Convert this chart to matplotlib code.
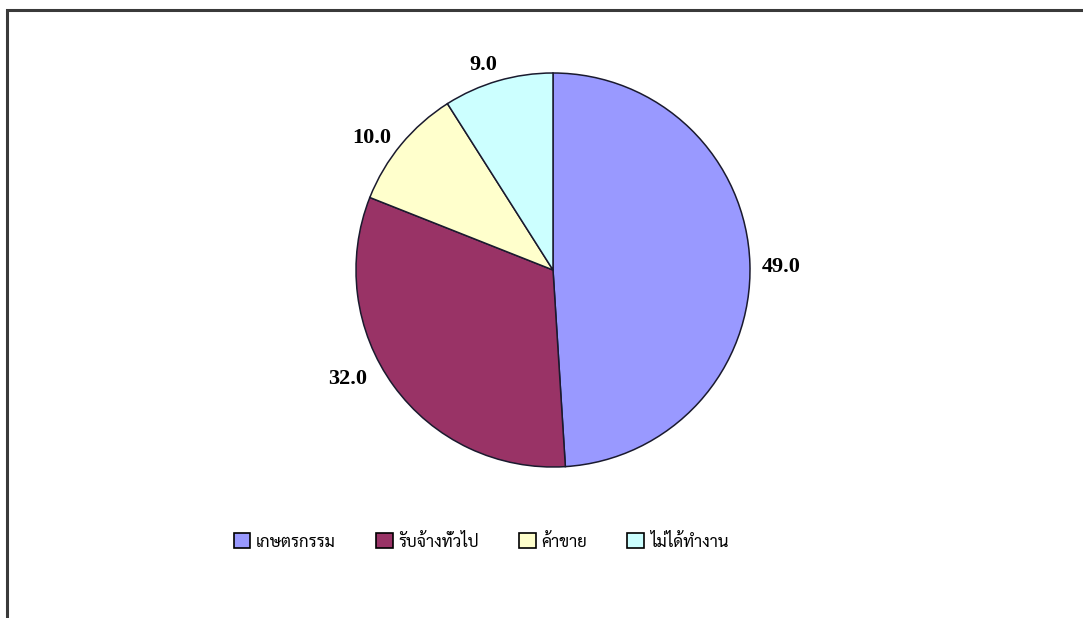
import numpy as np
import matplotlib
matplotlib.use('Agg')
import matplotlib.pyplot as plt
from matplotlib.patches import Rectangle

# data
categories = ['เกษตรกรรม', 'รับจ้างทั่วไป', 'ค้าขาย', 'ไม่ได้ทำงาน']
values = [49.0, 32.0, 10.0, 9.0]
colors = ['#9999FF', '#993366', '#FFFFCC', '#CCFFFF']

# label placement (distance in radii, angle nudge in degrees), excel style
label_dist = [1.16, 1.18, 1.14, 1.10]
label_nudge = [-1.0, -8.0, 3.5, 2.5]

W, H = 1083, 618
fig = plt.figure(figsize=(W / 100, H / 100), dpi=100)

# chart area border (top and left visible, the rest is cut off)
fig.patches.append(Rectangle((7 / W, -0.1), 1.2, (H - 10) / H + 0.1,
                             transform=fig.transFigure, fill=False,
                             edgecolor='#3a3a3a', linewidth=2.2))

# pie: radius 1 == 197 px, centre at (553, 270) from top left
r = 197
side = 3 * r
ax = fig.add_axes([(553 - side / 2) / W, (H - 270 - side / 2) / H, side / W, side / H])
wedges, _, autotexts = ax.pie(values, colors=colors, startangle=90, counterclock=False,
                              autopct='%.1f', pctdistance=1.15,
                              wedgeprops=dict(edgecolor='#1a1a2e', linewidth=1.1))
for w, t, d, nudge in zip(wedges, autotexts, label_dist, label_nudge):
    ang = np.deg2rad((w.theta1 + w.theta2) / 2 + nudge)
    t.set_position((d * np.cos(ang), d * np.sin(ang)))
    t.set_fontfamily('Liberation Serif')
    t.set_fontweight('bold')
    t.set_fontsize(16)
    t.set_color('black')
ax.set_xlim(-1.5, 1.5)
ax.set_ylim(-1.5, 1.5)
ax.set_aspect('equal')
ax.axis('off')

leg = fig.legend(wedges, categories, loc='center', bbox_to_anchor=(481 / W, (H - 542) / H),
                 ncol=4, frameon=False, handlelength=1.0, handleheight=1.0,
                 handletextpad=0.35, columnspacing=2.4,
                 prop=dict(family=['Sarabun', 'DejaVu Sans'], size=12))
for h in leg.legend_handles:
    h.set_edgecolor('black')
    h.set_linewidth(1.2)

fig.savefig('out.png', dpi=100, facecolor='white')
